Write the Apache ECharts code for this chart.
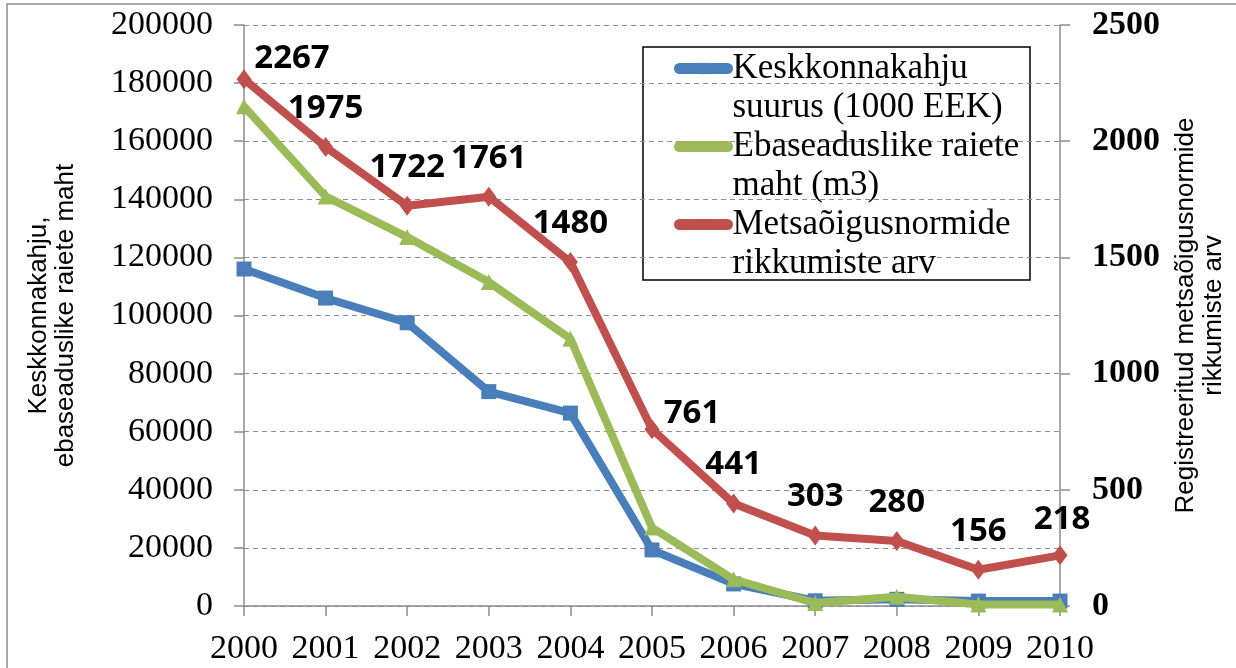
<!DOCTYPE html>
<html>
<head>
<meta charset="utf-8">
<script src="https://cdn.jsdelivr.net/npm/echarts@6/dist/echarts.min.js"></script>
<style>
  html, body { margin: 0; padding: 0; background: #fff; }
  #chart { width: 1236px; height: 668px; }
</style>
</head>
<body>
<div id="chart"></div>
<script>
// aastad
const years = ['2000', '2001', '2002', '2003', '2004', '2005', '2006', '2007', '2008', '2009', '2010'];
// Keskkonnakahju suurus (1000 EEK)
const damage = [116000, 106000, 97500, 73800, 66400, 19300, 7600, 1800, 2300, 1700, 1700];
// Ebaseaduslike raiete maht (m3)
const illegalCut = [172000, 141000, 127000, 111500, 92000, 27000, 9200, 1000, 3200, 500, 500];
// Metsaõigusnormide rikkumiste arv (parem telg)
const violations = [2267, 1975, 1722, 1761, 1480, 761, 441, 303, 280, 156, 218];

// seeriate nimed (legend)
const seriesNames = [
  'Keskkonnakahju\nsuurus (1000 EEK)',
  'Ebaseaduslike raiete\nmaht (m3)',
  'Metsaõigusnormide\nrikkumiste arv'
];

// mõne sildi nihe (dataIndex -> [dx, dy])
const labelShift = { 0: [48, 18], 5: [40, 23], 10: [2, 3] };

const serif = 'Liberation Serif';
const sans = 'Liberation Sans';

var myChart = echarts.init(document.getElementById('chart'));

var axisGray = '#8c8c8c';

var option = {
  animation: false,
  color: ['#4a7ebb', '#9bbb59', '#c0504d'],
  graphic: [
    // välimine raam
    {
      type: 'rect',
      shape: { x: 7, y: 4, width: 1240, height: 700 },
      style: { fill: 'none', stroke: axisGray, lineWidth: 1.5 },
      silent: true
    },
    // legendi raam
    {
      type: 'rect',
      shape: { x: 643, y: 47, width: 387, height: 233 },
      style: { fill: '#fff', stroke: '#000', lineWidth: 1.5 },
      silent: true,
      z: 0
    }
  ],
  grid: {
    left: 244,
    right: 176,
    top: 25,
    bottom: 62,
    outerBoundsMode: 'none'
  },
  legend: {
    orient: 'vertical',
    left: 674,
    top: 10,
    padding: 0,
    itemGap: -39,
    itemWidth: 48,
    itemHeight: 14,
    lineStyle: { width: 11, cap: 'round' },
    textStyle: {
      fontFamily: serif,
      fontSize: 35,
      color: '#000',
      lineHeight: 39
    },
    // tühi rida ees, et ikoon jääks esimese rea kõrgusele
    formatter: function (name) {
      return '\n' + name;
    },
    data: seriesNames
  },
  xAxis: {
    type: 'category',
    data: years,
    boundaryGap: false,
    axisLine: { lineStyle: { color: axisGray, width: 1.5 } },
    axisTick: { show: true, length: 10, lineStyle: { color: axisGray, width: 1.5 } },
    axisLabel: {
      interval: 0,
      color: '#000',
      fontFamily: serif,
      fontSize: 34,
      margin: 26
    }
  },
  yAxis: [
    {
      type: 'value',
      min: 0,
      max: 200000,
      interval: 20000,
      name: 'Keskkonnakahju,\nebaseaduslike raiete maht',
      nameLocation: 'middle',
      nameGap: 165,
      nameRotate: 90,
      nameTextStyle: {
        fontFamily: sans,
        fontSize: 26,
        color: '#000',
        lineHeight: 27
      },
      axisLine: { show: true, lineStyle: { color: axisGray, width: 1.5 } },
      axisTick: { show: true, length: 10, lineStyle: { color: axisGray, width: 1.5 } },
      axisLabel: {
        color: '#000',
        fontFamily: serif,
        fontSize: 34,
        margin: 31,
        formatter: function (v) { return String(v); }
      },
      splitLine: {
        show: true,
        lineStyle: { color: axisGray, type: [5, 4], width: 1.2 }
      }
    },
    {
      type: 'value',
      min: 0,
      max: 2500,
      interval: 500,
      name: 'Registreeritud metsaõigusnormide\nrikkumiste arv',
      nameLocation: 'middle',
      nameGap: 112,
      nameRotate: 90,
      nameTextStyle: {
        fontFamily: sans,
        fontSize: 26,
        color: '#000',
        lineHeight: 28
      },
      axisLine: { show: true, lineStyle: { color: axisGray, width: 1.5 } },
      axisTick: { show: true, length: 10, lineStyle: { color: axisGray, width: 1.5 } },
      axisLabel: {
        color: '#000',
        fontFamily: serif,
        fontWeight: 'bold',
        fontSize: 34,
        margin: 32,
        formatter: function (v) { return String(v); }
      },
      splitLine: { show: false }
    }
  ],
  series: [
    {
      name: seriesNames[0],
      type: 'line',
      yAxisIndex: 0,
      data: damage,
      symbol: 'rect',
      symbolSize: 15,
      lineStyle: { width: 8 },
      z: 2
    },
    {
      name: seriesNames[1],
      type: 'line',
      yAxisIndex: 0,
      data: illegalCut,
      symbol: 'triangle',
      symbolSize: 16,
      lineStyle: { width: 8 },
      z: 3
    },
    {
      name: seriesNames[2],
      type: 'line',
      yAxisIndex: 1,
      data: violations,
      symbol: 'diamond',
      symbolSize: [15, 20],
      lineStyle: { width: 8 },
      z: 4,
      label: {
        show: true,
        position: 'top',
        distance: 12,
        fontFamily: 'Open Sans',
        fontWeight: 'bold',
        fontSize: 33,
        color: '#000'
      },
      labelLayout: function (p) {
        var s = labelShift[p.dataIndex];
        if (s) {
          return { dx: s[0], dy: s[1] };
        }
        return {};
      }
    }
  ]
};

myChart.setOption(option);
</script>
</body>
</html>
